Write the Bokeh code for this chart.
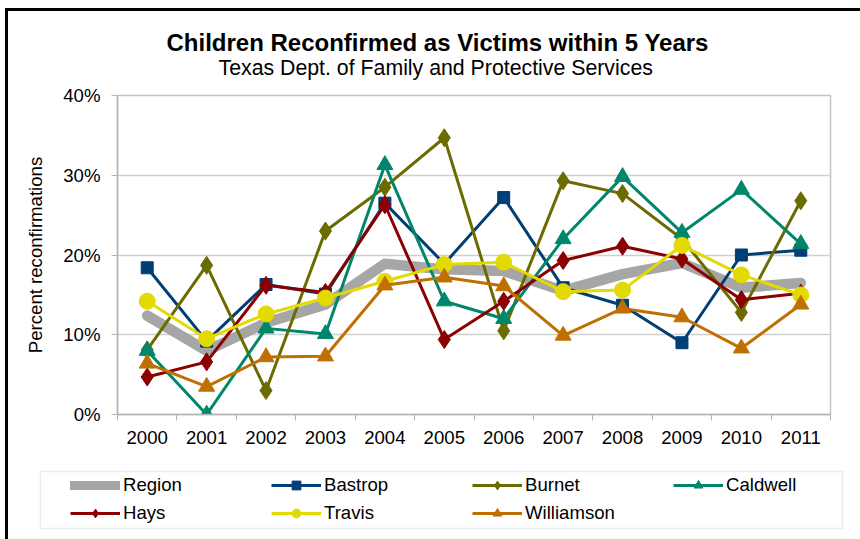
from bokeh.plotting import figure
from bokeh.models import (ColumnDataSource, FixedTicker, PrintfTickFormatter,
                          Legend, LegendItem, Label, BoxAnnotation, Range1d)
from bokeh.layouts import column
from bokeh.embed import file_html
from bokeh.resources import INLINE

# Percent of children reconfirmed as victims within 5 years, by county
years = [2000, 2001, 2002, 2003, 2004, 2005, 2006, 2007, 2008, 2009, 2010, 2011]
region = [12.4, 8.0, 11.5, 13.8, 18.9, 18.2, 18.0, 15.5, 17.6, 19.0, 15.9, 16.5]
bastrop = [18.4, 9.2, 16.3, 15.1, 26.5, 18.9, 27.2, 15.9, 13.7, 9.0, 20.0, 20.6]
burnet = [8.1, 18.7, 3.0, 23.0, 28.5, 34.7, 10.5, 29.3, 27.7, 22.0, 12.8, 26.8]
caldwell = [8.0, 0.0, 10.8, 10.1, 31.3, 14.2, 12.0, 22.0, 29.8, 22.8, 28.2, 21.4]
hays = [4.7, 6.6, 16.2, 15.3, 26.3, 9.4, 14.2, 19.3, 21.1, 19.5, 14.4, 15.2]
travis = [14.2, 9.5, 12.6, 14.6, 16.7, 18.8, 19.1, 15.4, 15.6, 21.2, 17.5, 15.0]
williamson = [6.4, 3.5, 7.2, 7.3, 16.2, 17.2, 16.1, 9.9, 13.3, 12.2, 8.3, 13.8]
y_ticks = [0, 10, 20, 30, 40]

FONT = "Liberation Sans"
WIDTH = 852


def strip(height):
    """A blank panel whose frame fills the whole figure (for titles / key)."""
    f = figure(width=WIDTH, height=height, output_backend="svg", toolbar_location=None,
               x_axis_type=None, y_axis_type=None, min_border=0,
               x_range=Range1d(0, 1), y_range=Range1d(0, 1))
    f.outline_line_color = None
    f.background_fill_color = "white"
    f.border_fill_color = "white"
    f.xgrid.grid_line_color = None
    f.ygrid.grid_line_color = None
    try:
        f.frame_align = False
    except Exception:
        pass
    return f


# ---- title strip ----
tt = strip(73)
tt.add_layout(Label(x=158, y=42, x_units="screen", y_units="screen",
                    text="Children Reconfirmed as Victims within 5 Years",
                    text_font=FONT, text_font_size="24px", text_font_style="bold",
                    text_align="left", text_baseline="middle", text_color="black"))
tt.add_layout(Label(x=210, y=16.5, x_units="screen", y_units="screen",
                    text="Texas Dept. of Family and Protective Services",
                    text_font=FONT, text_font_size="21.3px",
                    text_align="left", text_baseline="middle", text_color="black"))

# ---- chart ----
p = figure(width=WIDTH, height=370, output_backend="svg", toolbar_location=None,
           x_range=Range1d(1999.5, 2011.5), y_range=Range1d(0, 40),
           min_border_left=109, min_border_right=30,
           min_border_top=11, min_border_bottom=40)
try:
    p.frame_align = False
except Exception:
    pass
p.title = None
p.background_fill_color = "white"
p.border_fill_color = "white"
p.outline_line_color = "#c4c4c4"
p.outline_line_width = 1.5

p.xaxis.ticker = FixedTicker(ticks=years, minor_ticks=[y - 0.5 for y in years] + [2011.5])
p.xaxis.major_tick_out = 0
p.xaxis.major_tick_in = 0
p.xaxis.minor_tick_out = 6
p.xaxis.minor_tick_in = 0
p.xaxis.minor_tick_line_color = "#b4b4b4"
p.xaxis.axis_line_color = "#b4b4b4"
p.xaxis.axis_line_width = 1.5
p.xaxis.major_label_standoff = 10
p.xaxis.major_label_text_font = FONT
p.xaxis.major_label_text_font_size = "18.6px"
p.xaxis.major_label_text_color = "black"

p.yaxis.ticker = FixedTicker(ticks=y_ticks)
p.yaxis.formatter = PrintfTickFormatter(format="%d%%")
p.yaxis.minor_tick_line_color = None
p.yaxis.major_tick_out = 6
p.yaxis.major_tick_in = 0
p.yaxis.major_tick_line_color = "#b4b4b4"
p.yaxis.axis_line_color = "#b4b4b4"
p.yaxis.axis_line_width = 1.5
p.yaxis.major_label_standoff = 11
p.yaxis.major_label_text_font = FONT
p.yaxis.major_label_text_font_size = "18.6px"
p.yaxis.major_label_text_color = "black"
p.yaxis.axis_label = "Percent reconfirmations"
p.yaxis.axis_label_text_font = FONT
p.yaxis.axis_label_text_font_size = "18.6px"
p.yaxis.axis_label_text_font_style = "normal"
p.yaxis.axis_label_text_color = "black"
p.yaxis.axis_label_standoff = 14

p.xgrid.grid_line_color = None
p.ygrid.grid_line_color = "#cfcfcf"
p.ygrid.grid_line_width = 1.5

src = ColumnDataSource(dict(year=years, region=region, bastrop=bastrop, burnet=burnet,
                            caldwell=caldwell, hays=hays, travis=travis,
                            williamson=williamson))

series = [
    ("Bastrop", "bastrop", "#003f75", "square", 12),
    ("Burnet", "burnet", "#6b6b00", "diamond", 18),
    ("Caldwell", "caldwell", "#00876b", "triangle", 16),
    ("Hays", "hays", "#8b0000", "diamond", 18),
    ("Travis", "travis", "#e2da00", "circle", 16),
    ("Williamson", "williamson", "#c07000", "triangle", 16),
]
REGION_COLOR = "#a6a6a6"

p.line("year", "region", source=src, line_color=REGION_COLOR,
       line_width=10.5, line_cap="round", line_join="round")
for name, col, color, marker, size in series:
    p.line("year", col, source=src, line_color=color, line_width=3)
    p.scatter("year", col, source=src, marker=marker, size=size,
              fill_color=color, line_color=color)

# ---- key strip: same series styles, data falls outside this panel's range ----
lg = strip(85)
lg.add_layout(BoxAnnotation(left=32, right=834, bottom=11, top=68,
                            left_units="screen", right_units="screen",
                            bottom_units="screen", top_units="screen",
                            fill_color="white", fill_alpha=1.0,
                            line_color="#c4c4c4", line_width=1.5))

items = [LegendItem(label="Region", renderers=[
    lg.line("year", "region", source=src, line_color=REGION_COLOR, line_width=9,
            line_cap="round")])]
for name, col, color, marker, size in series:
    ln = lg.line("year", col, source=src, line_color=color, line_width=3)
    mk = lg.scatter("year", col, source=src, marker=marker, size=size * 0.72,
                    fill_color=color, line_color=color)
    items.append(LegendItem(label=name, renderers=[ln, mk]))

legend = Legend(items=items, location=(62, 15), orientation="horizontal", ncols=4)
legend.label_text_font = FONT
legend.label_text_font_size = "18.6px"
legend.label_text_color = "black"
legend.glyph_width = 50
legend.glyph_height = 22
legend.label_height = 22
legend.label_standoff = 3
legend.label_width = 142
legend.spacing = 6
legend.margin = 0
legend.padding = 4
legend.border_line_color = None
legend.background_fill_alpha = 0
lg.add_layout(legend)

root = column(tt, p, lg, margin=(8, 0, 0, 5), spacing=0,
              styles={"border-left": "3px solid black", "border-top": "3px solid black"})

open("out.html", "w").write(file_html(root, INLINE))
